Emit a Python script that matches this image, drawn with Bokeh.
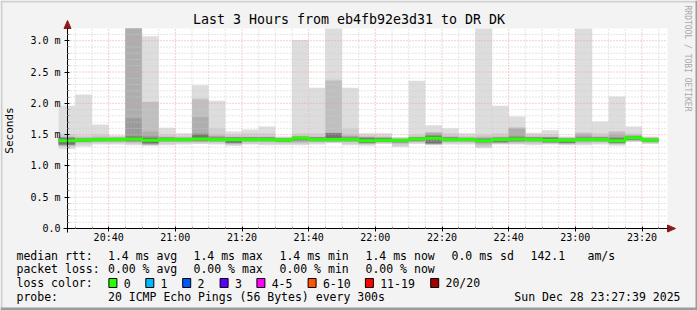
import math
from bokeh.plotting import figure
from bokeh.models import FixedTicker, LinearAxis, Range1d
from bokeh.core.properties import value
from bokeh.embed import file_html
from bokeh.resources import INLINE

# ---------------- data ----------------
t_first = "20:27:39"          # left edge of the 3-hour window
t_last = "23:27:39"           # right edge
slots = ["20:25", "20:30", "20:35", "20:40", "20:45", "20:50", "20:55",
         "21:00", "21:05", "21:10", "21:15", "21:20", "21:25", "21:30", "21:35",
         "21:40", "21:45", "21:50", "21:55", "22:00", "22:05", "22:10", "22:15",
         "22:20", "22:25", "22:30", "22:35", "22:40", "22:45", "22:50", "22:55",
         "23:00", "23:05", "23:10", "23:15", "23:20"]
slot_minutes = 5

# smoke boundaries in milliseconds (outer ping pairs -> inner)
rtt_max = [1.96, 2.14, 1.66, 1.49, 3.30, 3.07, 1.61, 1.52, 2.29, 2.04, 1.55, 1.58,
           1.63, 1.47, 3.01, 2.25, 3.30, 2.25, 1.52, 1.52, 1.46, 2.36, 1.65, 1.60,
           1.52, 3.30, 1.96, 1.79, 1.53, 1.57, 1.47, 3.30, 1.71, 2.11, 1.63, 1.47]
rtt_hi2 = [1.50, 1.48, 1.50, 1.47, 3.30, 2.03, 1.50, 1.48, 2.08, 1.60, 1.50, 1.52,
           1.52, 1.46, 1.52, 1.52, 2.38, 1.60, 1.49, 1.48, 1.45, 1.50, 1.54, 1.52,
           1.48, 1.50, 1.52, 1.62, 1.50, 1.50, 1.46, 1.53, 1.52, 1.55, 1.52, 1.46]
rtt_hi3 = [1.47, 1.46, 1.47, 1.46, 3.30, 2.02, 1.47, 1.46, 2.06, 1.50, 1.47, 1.47,
           1.47, 1.45, 1.48, 1.47, 2.36, 1.50, 1.47, 1.46, 1.44, 1.47, 1.53, 1.48,
           1.46, 1.47, 1.47, 1.61, 1.47, 1.47, 1.45, 1.53, 1.48, 1.55, 1.49, 1.45]
rtt_hi4 = [1.46, 1.44, 1.45, 1.45, 3.30, 1.55, 1.46, 1.45, 1.78, 1.47, 1.46, 1.46,
           1.46, 1.44, 1.47, 1.46, 1.53, 1.47, 1.46, 1.45, 1.43, 1.46, 1.53, 1.46,
           1.45, 1.45, 1.46, 1.60, 1.46, 1.46, 1.44, 1.50, 1.46, 1.50, 1.48, 1.44]
rtt_hi5 = [1.46, 1.44, 1.45, 1.45, 1.76, 1.48, 1.46, 1.45, 1.52, 1.47, 1.46, 1.46,
           1.46, 1.44, 1.47, 1.46, 1.52, 1.47, 1.46, 1.45, 1.43, 1.46, 1.50, 1.46,
           1.45, 1.45, 1.46, 1.48, 1.46, 1.46, 1.44, 1.47, 1.46, 1.46, 1.48, 1.44]
rtt_hi6 = [1.44, 1.43, 1.44, 1.44, 1.47, 1.45, 1.44, 1.44, 1.50, 1.45, 1.45, 1.45,
           1.45, 1.43, 1.46, 1.45, 1.52, 1.45, 1.44, 1.44, 1.42, 1.45, 1.48, 1.45,
           1.44, 1.43, 1.44, 1.46, 1.45, 1.45, 1.43, 1.45, 1.45, 1.44, 1.47, 1.43]
rtt_median = [1.40, 1.41, 1.42, 1.42, 1.43, 1.41, 1.42, 1.42, 1.43, 1.42, 1.42, 1.42,
              1.42, 1.41, 1.44, 1.42, 1.42, 1.42, 1.40, 1.41, 1.41, 1.43, 1.44, 1.42,
              1.42, 1.40, 1.42, 1.43, 1.42, 1.41, 1.41, 1.42, 1.42, 1.40, 1.45, 1.41]
rtt_lo6 = [1.34, 1.39, 1.40, 1.40, 1.40, 1.36, 1.40, 1.40, 1.40, 1.40, 1.37, 1.40,
           1.40, 1.39, 1.41, 1.40, 1.40, 1.40, 1.37, 1.39, 1.39, 1.40, 1.36, 1.40,
           1.40, 1.38, 1.38, 1.40, 1.40, 1.38, 1.37, 1.40, 1.40, 1.37, 1.42, 1.39]
rtt_lo5 = [1.33, 1.38, 1.39, 1.39, 1.38, 1.35, 1.39, 1.39, 1.39, 1.39, 1.36, 1.39,
           1.39, 1.38, 1.39, 1.39, 1.39, 1.39, 1.36, 1.38, 1.37, 1.39, 1.35, 1.39,
           1.39, 1.36, 1.37, 1.38, 1.39, 1.37, 1.36, 1.39, 1.39, 1.36, 1.41, 1.38]
rtt_lo4 = [1.33, 1.38, 1.39, 1.39, 1.38, 1.34, 1.39, 1.39, 1.39, 1.39, 1.36, 1.39,
           1.39, 1.38, 1.39, 1.39, 1.39, 1.39, 1.36, 1.38, 1.37, 1.39, 1.35, 1.39,
           1.39, 1.36, 1.37, 1.38, 1.39, 1.37, 1.36, 1.39, 1.39, 1.36, 1.41, 1.38]
rtt_lo3 = [1.32, 1.37, 1.38, 1.38, 1.37, 1.335, 1.38, 1.38, 1.38, 1.38, 1.35, 1.38,
           1.38, 1.37, 1.37, 1.38, 1.38, 1.38, 1.35, 1.37, 1.35, 1.38, 1.34, 1.38,
           1.38, 1.33, 1.36, 1.37, 1.37, 1.36, 1.35, 1.37, 1.38, 1.35, 1.40, 1.37]
rtt_lo2 = [1.30, 1.34, 1.36, 1.36, 1.35, 1.33, 1.35, 1.36, 1.36, 1.36, 1.33, 1.35,
           1.35, 1.35, 1.35, 1.36, 1.37, 1.35, 1.34, 1.36, 1.32, 1.37, 1.34, 1.36,
           1.36, 1.30, 1.35, 1.35, 1.35, 1.35, 1.34, 1.35, 1.36, 1.34, 1.39, 1.36]
rtt_min = [1.27, 1.31, 1.34, 1.34, 1.33, 1.32, 1.33, 1.34, 1.35, 1.34, 1.32, 1.34,
           1.33, 1.33, 1.33, 1.34, 1.36, 1.33, 1.32, 1.35, 1.30, 1.35, 1.33, 1.34,
           1.34, 1.28, 1.34, 1.34, 1.33, 1.34, 1.33, 1.33, 1.34, 1.32, 1.38, 1.35]

x_tick_labels = ["20:40", "21:00", "21:20", "21:40", "22:00", "22:20", "22:40", "23:00", "23:20"]
y_tick_values = [0.0, 0.5, 1.0, 1.5, 2.0, 2.5, 3.0]
y_tick_labels = ["0.0", "0.5 m", "1.0 m", "1.5 m", "2.0 m", "2.5 m", "3.0 m"]
y_minor_step = 0.1
y_top = 3.195

loss_labels = ["0", "1", "2", "3", "4-5", "6-10", "11-19", "20/20"]
loss_colors = ["#26ff00", "#00b8ff", "#0059ff", "#5e00ff", "#ff00ff", "#ff5500", "#ff0000", "#a10000"]

title_text = "Last 3 Hours from eb4fb92e3d31 to DR DK"
stats_rtt = [("median rtt:", 16), ("1.4 ms avg", 107.5), ("1.4 ms max", 193), ("1.4 ms min", 279),
             ("1.4 ms now", 365), ("0.0 ms sd", 451), ("142.1", 530), ("am/s", 587)]
stats_loss = [("packet loss:", 16), ("0.00 % avg", 107.5), ("0.00 % max", 193),
              ("0.00 % min", 279), ("0.00 % now", 365)]
probe_text = "20 ICMP Echo Pings (56 Bytes) every 300s"
stamp_text = "Sun Dec 28 23:27:39 2025"


def to_min(s):
    parts = [float(v) for v in s.split(":")]
    return parts[0] * 60 + parts[1] + (parts[2] / 60 if len(parts) > 2 else 0)


x0, x1 = to_min(t_first), to_min(t_last)
starts = [to_min(s) for s in slots]
ends = [s + slot_minutes for s in starts]

# layout geometry (canvas pixels): plot area 67..667 x 28..228
W, H = 697, 310
FL, FT, FW, FH = 67, 28, 600, 200


def X(px):  # canvas pixel -> data x
    return x0 + (px - FL) * (x1 - x0) / FW


def Y(py):  # canvas pixel (top-down) -> data y
    return (FT + FH - py) * y_top / FH


MONO = "DejaVu Sans Mono"

p = figure(width=W, height=H, output_backend="svg", toolbar_location=None,
           x_range=Range1d(X(0), X(W)), y_range=Range1d(Y(H), Y(0)),
           x_axis_location=None, y_axis_location=None,
           min_border=0, min_border_left=0, min_border_right=0, min_border_top=0, min_border_bottom=0)
p.background_fill_color = "#f3f3f3"
p.border_fill_color = "#f3f3f3"
p.outline_line_color = None
p.xgrid.visible = False
p.ygrid.visible = False

# canvas border (3D look)
p.quad(left=[X(0), X(0), X(W - 2), X(0)], right=[X(W), X(2), X(W), X(W)],
       top=[Y(0), Y(0), Y(0), Y(H - 3)], bottom=[Y(2), Y(H), Y(H), Y(H)],
       fill_color=["#d0d0d0", "#d0d0d0", "#9c9c9c", "#9c9c9c"], line_color=None)

# white plot area
p.quad(left=[x0], right=[x1], bottom=[0], top=[y_top], fill_color="white", line_color=None)

# smoke layers (outer ping pair -> inner ones), grey ramp
layers = [(rtt_min, rtt_max, "#dddddd"), (rtt_lo2, rtt_hi2, "#cfcfcf"),
          (rtt_lo3, rtt_hi3, "#bfbfbf"), (rtt_lo4, rtt_hi4, "#aeaeae"),
          (rtt_lo5, rtt_hi5, "#9b9b9b"), (rtt_lo6, rtt_hi6, "#737373")]
for lo, hi, col in layers:
    p.quad(left=starts, right=ends, bottom=lo, top=[min(h, y_top) for h in hi],
           fill_color=col, line_color=None)

# grid (drawn over the smoke, limited to the plot area)
x_major = [to_min(s) for s in x_tick_labels]
x_minor = [s for s in starts[1:] + [ends[-1]] if s not in x_major]
y_minor = [round(i * y_minor_step, 1) for i in range(1, int(y_top / y_minor_step) + 1)]
y_minor = [v for v in y_minor if v not in y_tick_values]
p.segment(x0=x_minor, x1=x_minor, y0=[0] * len(x_minor), y1=[y_top] * len(x_minor),
          line_color="#cccccc", line_dash="1 2", line_width=1)
p.segment(x0=[x0] * len(y_minor), x1=[x1] * len(y_minor), y0=y_minor, y1=y_minor,
          line_color="#cccccc", line_dash="1 2", line_width=1)
p.segment(x0=x_major, x1=x_major, y0=[0] * len(x_major), y1=[y_top] * len(x_major),
          line_color="#eaa0a0", line_dash="1 2", line_width=1)
p.segment(x0=[x0] * 6, x1=[x1] * 6, y0=y_tick_values[1:], y1=y_tick_values[1:],
          line_color="#eaa0a0", line_dash="1 2", line_width=1)

# median (loss 0 colour)
p.step(x=starts + [ends[-1]], y=rtt_median + [rtt_median[-1]], mode="after",
       line_width=3, line_color=loss_colors[0])

# axes
xt = FixedTicker(ticks=x_major, minor_ticks=x_minor)
yt = FixedTicker(ticks=y_tick_values, minor_ticks=y_minor)
xaxis = LinearAxis(ticker=xt, fixed_location=0, bounds=(X(63), x1))
xaxis.major_label_overrides = {to_min(s): s for s in x_tick_labels}
yaxis = LinearAxis(ticker=yt, fixed_location=x0, bounds=(Y(232), y_top))
yaxis.major_label_overrides = dict(zip(y_tick_values, y_tick_labels))
for ax in (xaxis, yaxis):
    ax.axis_line_color = "black"
    ax.major_tick_line_color = "black"
    ax.major_tick_out = 3
    ax.major_tick_in = 2
    ax.minor_tick_line_color = "#999999"
    ax.minor_tick_out = 0
    ax.minor_tick_in = 2
    ax.major_label_text_font = MONO
    ax.major_label_text_font_size = "10px"
    ax.major_label_text_color = "black"
xaxis.major_label_standoff = 0
yaxis.major_label_standoff = 4
yaxis.axis_label = "Seconds"
yaxis.axis_label_text_font = MONO
yaxis.axis_label_text_font_size = "11px"
yaxis.axis_label_text_font_style = "normal"
yaxis.axis_label_text_color = "black"
yaxis.axis_label_standoff = 11
p.add_layout(xaxis, "below")
p.add_layout(yaxis, "left")

# arrows at the axis ends
ARROW = "#8b1a1a"
p.patches(xs=[[X(63.5), X(70.5), X(67)], [X(667), X(667), X(675)]],
          ys=[[Y(28), Y(28), Y(20)], [Y(224.5), Y(231.5), Y(228)]],
          fill_color=ARROW, line_color=ARROW)


def txt(px, py, s, size="11.5px", align="left", color="black", angle=0.0):
    p.text(x=[X(px)], y=[Y(py)], text=[s], text_font=value(MONO), text_font_size=value(size),
           text_align=align, text_baseline="middle", text_color=color, angle=angle)


txt(348.5, 19, title_text, size="13.3px", align="center")
txt(687, 5, "RRDTOOL / TOBI OETIKER", size="8px", color="#a8a8a8", angle=-math.pi / 2)

for s, px in stats_rtt:
    txt(px, 255, s)
for s, px in stats_loss:
    txt(px, 268.5, s)
txt(16, 282.5, "loss color:")
box_x = [108.4, 145.3, 182.2, 219.6, 256.4, 307.6, 364.9, 430.2]
p.quad(left=[X(b) for b in box_x], right=[X(b + 8) for b in box_x],
       top=[Y(278)] * len(box_x), bottom=[Y(287)] * len(box_x),
       fill_color=loss_colors, line_color="black", line_width=1)
for bx, lab in zip(box_x, loss_labels):
    txt(bx + 14.8, 282.5, lab)
txt(16, 296, "probe:")
txt(107.5, 296, probe_text)
txt(680, 296, stamp_text, align="right")

open("out.html", "w").write(file_html(p, INLINE))
